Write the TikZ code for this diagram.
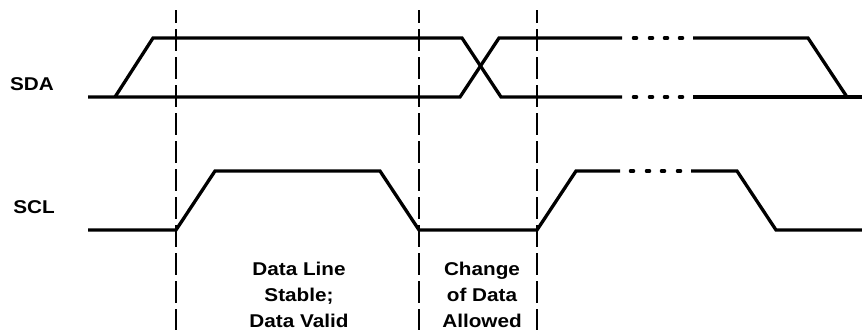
\documentclass[tikz,border=0pt]{standalone}
\usepackage{fontspec}
\setmainfont[FakeStretch=1.12]{Liberation Sans}
\usetikzlibrary{positioning}
\tikzstyle{signal} = [line width=3.3pt, line join=miter]
\tikzstyle{marker} = [line width=2.2pt, dash pattern=on 22pt off 6pt, dash phase=9pt]
\tikzstyle{dotseg} = [line width=3.3pt, line cap=round]
\tikzstyle{lbl} = [font=\fontsize{18.5}{26}\selectfont\bfseries, inner sep=0pt]

\begin{document}
\begin{tikzpicture}[x=1pt,y=-1pt]
        \useasboundingbox (0,0) rectangle (862,330);
        % We start by placing the markers and the labels
        \coordinate (mkA) at (176,10);
        \coordinate (mkB) at (419,10);
        \coordinate (mkC) at (537,10);
        \node [lbl, anchor=base east] (sdaLabel) at (54,90) {SDA};
        \node [lbl, anchor=base east] (sclLabel) at (55,213) {SCL};
        \node [lbl, align=center, anchor=base] (stableLabel) at (299,327) {Data Line\\Stable;\\Data Valid};
        \node [lbl, align=center, anchor=base] (changeLabel) at (482,327) {Change\\of Data\\Allowed};

        \draw [marker] (mkA) -- ++(0,320);
        \draw [marker] (mkB) -- ++(0,320);
        \draw [marker] (mkC) -- ++(0,320);

        % SDA waveform
        \draw [signal] (88,97) -- (460,97) -- (499,38) -- (622,38);
        \draw [signal] (693,38) -- (808,38) -- (847,97) -- (862,97);
        \draw [signal] (115,97) -- (153,38) -- (462,38) -- (501,97) -- (622,97);
        \draw [signal] (693,97) -- (862,97);
        \foreach \x in {635,651,666,681} {
            \draw [dotseg] (\x-1.6,38) -- (\x+1.6,38);
            \draw [dotseg] (\x-1.6,97) -- (\x+1.6,97);
        }

        % SCL waveform
        \draw [signal] (88,230) -- (176,230) -- (215,171) -- (380,171) -- (419,230) -- (537,230) -- (576,171) -- (620,171);
        \draw [signal] (691,171) -- (737,171) -- (776,230) -- (862,230);
        \foreach \x in {632,648,663,679}
            \draw [dotseg] (\x-1.6,171) -- (\x+1.6,171);
    \end{tikzpicture}
\end{document}
